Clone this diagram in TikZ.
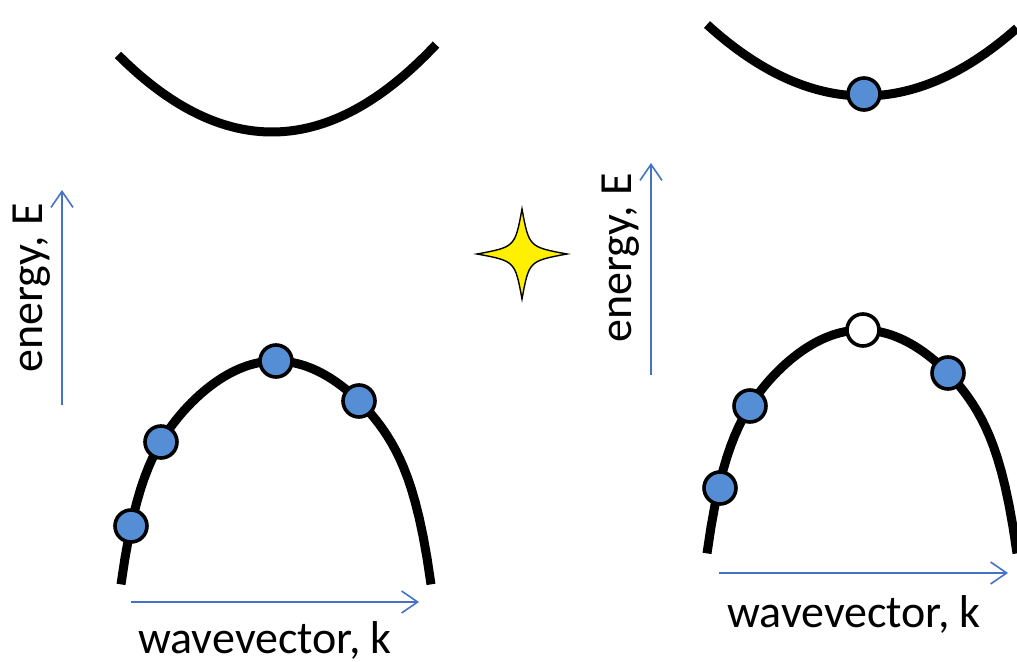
\documentclass[tikz,border=0pt]{standalone}
\usepackage{fontspec}
\setmainfont{Carlito}
\usetikzlibrary{arrows.meta}

\begin{document}
\begin{tikzpicture}[x=0.5pt,y=-0.5pt,
    band/.style={line width=4.5pt},
    axis/.style={cAx,line width=0.8pt,-{Straight Barb[length=8pt,width=11pt]}},
    lbl/.style={font=\fontsize{23}{27}\selectfont,inner sep=0pt}]

  % Colors: carrier fill, axis arrows, the sparkle
  \definecolor{cE}{RGB}{85,142,213}   % electron blue
  \definecolor{cAx}{RGB}{68,114,196}  % axis blue
  \definecolor{cS}{RGB}{255,240,0}    % yellow
  \def\r{8pt}

  \useasboundingbox (0,0) rectangle (1017,662);

  % ---- Left panel: before ----
  % conduction band (empty)
  \draw[band] plot[domain=118:436,samples=60] (\x,{132-32.5*((\x-272)/100)^2});

  % valence band
  \draw[band] plot[domain=121:431,samples=80]
    (\x,{361+58*((\x-276)/100)^2+1.05*((\x-276)/100)^10});

  % electrons in the valence band
  \foreach \x/\y in {131/526,161/442,276/361,359/401}
    \filldraw[fill=cE,line width=1.8pt] (\x,\y) circle (\r);

  % axes
  \coordinate (EL0) at (62,405);
  \coordinate (EL1) at (62,190);
  \draw[axis] (EL0) -- (EL1);
  \coordinate (kL0) at (131,602);
  \coordinate (kL1) at (419,602);
  \draw[axis] (kL0) -- (kL1);
  \node[lbl,rotate=90,anchor=base] (eL) at (42,288) {energy, E};
  \node[lbl,anchor=base] (wL) at (265,653) {wavevector, k};

  % ---- The sparkle (photon) ----
  \filldraw[fill=cS,line width=0.7pt] (522,209) .. controls (529,247) .. (567,254)
    .. controls (529,261) .. (522,299) .. controls (515,261) .. (477,254)
    .. controls (515,247) .. (522,209) -- cycle;

  % ---- Right panel: after ----
  % conduction band, now holding one electron
  \draw[band] plot[domain=707:1017,samples=60] (\x,{96-29*((\x-864)/100)^2});
  \filldraw[fill=cE,line width=1.8pt] (864,94) circle (\r);

  % valence band
  \draw[band] plot[domain=707:1017,samples=80]
    (\x,{330+58*((\x-862)/100)^2+1.05*((\x-862)/100)^10});

  % electrons left behind, and the hole at the top
  \foreach \x/\y in {720/488,750/406,948/373}
    \filldraw[fill=cE,line width=1.8pt] (\x,\y) circle (\r);
  \filldraw[fill=white,line width=1.8pt] (863,330) circle (\r);

  % axes
  \coordinate (ER0) at (651,375);
  \coordinate (ER1) at (651,163);
  \draw[axis] (ER0) -- (ER1);
  \coordinate (kR0) at (719,573);
  \coordinate (kR1) at (1008,573);
  \draw[axis] (kR0) -- (kR1);
  \node[lbl,rotate=90,anchor=base] (eR) at (631,258) {energy, E};
  \node[lbl,anchor=base] (wR) at (854,627) {wavevector, k};

\end{tikzpicture}
\end{document}
